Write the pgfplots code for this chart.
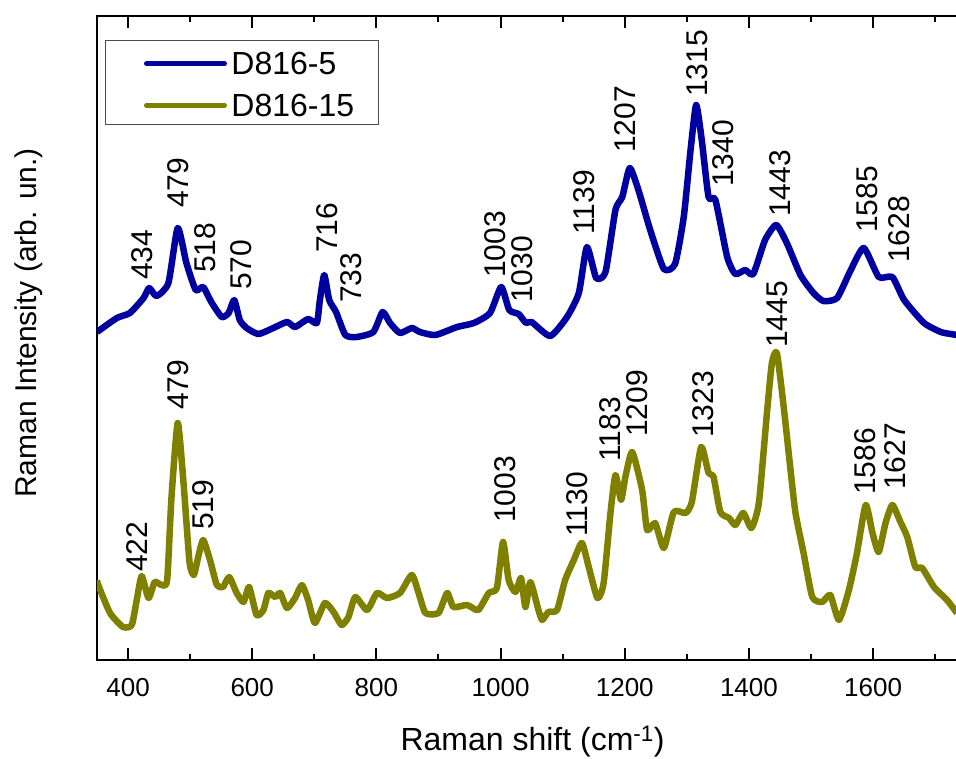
\documentclass[border=0pt]{standalone}
\usepackage{pgfplots}
\pgfplotsset{compat=1.18}
\usepackage{fontspec}
\setmainfont{Liberation Sans}
\definecolor{dblue}{RGB}{0,0,160}
\definecolor{olivec}{RGB}{128,128,0}
\pgfplotstableread{
x y
350 328
382 342
403 347
425 362
434 372
446 364
465 377
480 432
494 397
509 370
521 373
535 357
551 343
562 347
571 360
580 340
591 332
610 326
634 332
656 338
669 333
690 341
704 337
709 360
716 385
724 360
735 348
750 325
768 323
795 328
810 348
822 337
838 327
857 332
870 328
895 325
930 333
957 337
983 347
1001 373
1014 350
1029 346
1041 337
1050 338
1080 324
1107 343
1126 367
1139 413
1154 382
1169 388
1185 450
1196 463
1208 492
1222 470
1241 430
1263 391
1281 396
1295 443
1306 510
1315 555
1324 520
1335 463
1346 460
1365 403
1378 386
1394 390
1407 386
1426 420
1444 435
1461 417
1483 385
1504 367
1520 359
1542 362
1564 390
1585 412
1609 383
1631 383
1650 360
1682 337
1709 328
1725 326
1735 325
}\blue
\pgfplotstableread{
x y
350 80
352 75
371 47
392 33
406 35
414 60
422 84
433 62
443 78
454 75
463 80
470 163
480 237
489 180
499 98
506 85
513 103
521 120
532 100
543 75
553 73
563 83
575 67
586 58
595 73
607 45
618 50
626 67
637 63
645 67
656 52
669 62
680 75
690 60
701 37
717 57
731 48
744 35
755 43
766 63
785 50
801 67
817 62
838 67
857 85
868 67
879 47
900 47
914 67
924 53
946 55
964 50
981 67
994 72
1004 118
1013 80
1024 68
1033 82
1040 53
1048 78
1061 50
1067 40
1077 48
1091 50
1104 80
1118 100
1131 117
1142 93
1156 62
1166 77
1177 147
1185 185
1194 160
1201 183
1212 208
1228 170
1236 130
1249 137
1263 112
1279 148
1298 147
1308 158
1323 213
1335 187
1343 183
1354 148
1368 142
1378 135
1391 147
1404 132
1416 157
1429 247
1437 297
1445 307
1456 253
1467 190
1475 147
1488 107
1502 63
1518 58
1531 65
1545 40
1561 70
1574 107
1588 155
1599 127
1609 108
1620 137
1631 155
1644 138
1655 123
1668 93
1679 92
1698 73
1719 60
1735 47
}\olive
\begin{document}
\begin{tikzpicture}
\useasboundingbox (-97pt,-98pt) rectangle (859pt,660pt);
\begin{axis}[
  scale only axis, width=859pt, height=644pt,
  xmin=350, xmax=1733.5, ymin=0, ymax=644,
  axis line style={draw=none},
  clip mode=individual,
  xtick={400,600,...,1600}, minor xtick={500,700,...,1700}, ytick=\empty,
  tick align=inside, xtick pos=both, xticklabel pos=lower,
  major tick length=12pt, minor tick length=6pt,
  tick style={black, line width=2pt}, minor tick style={black, line width=2pt},
  xticklabel style={font=\fontsize{26}{26}\selectfont, anchor=base, yshift=-36.7pt},
  /pgf/number format/assume math mode=true, /pgf/number format/1000 sep={},
  xlabel={Raman shift (cm\textsuperscript{-1})},
  xlabel style={font=\fontsize{32}{32}\selectfont, at={(axis description cs:0.507,-0.1405)}, anchor=base, inner sep=0pt},
  ylabel={Raman Intensity (arb. un.)},
  ylabel style={font=\fontsize{30}{30}\selectfont, at={(axis description cs:-0.0702,0.5233)}, anchor=base, inner sep=0pt},
  legend style={at={(axis description cs:0.0093,0.9627)}, anchor=north west, draw=black!70, line width=1pt,
    inner xsep=0pt, inner ysep=8pt, row sep=15.4pt, font=\fontsize{32}{32}\selectfont,
    nodes={inner sep=0pt, text height=26.3pt, text depth=0pt}},
  legend cell align=left,
  legend image code/.code={\path[draw=none] (0pt,0pt) -- (39pt,0pt); \draw[#1, line cap=round, line width=5pt] (41pt,-2pt) -- (119pt,-2pt); \path[draw=none] (126pt,0pt);},
]
\draw[line width=2pt, line cap=rect] (rel axis cs:1,1) -- (rel axis cs:0,1) -- (rel axis cs:0,0) -- (rel axis cs:1,0);
\addplot[dblue, line width=6.5pt, line join=round, smooth, tension=0.35] table[x=x, y=y] {\blue};
\addlegendentry{D816-5}
\addplot[olivec, line width=6.5pt, line join=round, smooth, tension=0.35] table[x=x, y=y] {\olive};
\addlegendentry{D816-15\hspace*{24pt}}
\tikzset{pl/.style={rotate=90, anchor=west, inner sep=0pt, font=\fontsize{30}{30}\selectfont}}
\node[pl] at (axis cs:422,380) {434};
\node[pl] at (axis cs:480,452) {479};
\node[pl] at (axis cs:524,387) {518};
\node[pl] at (axis cs:583,370) {570};
\node[pl] at (axis cs:720,407) {716};
\node[pl] at (axis cs:760,357) {733};
\node[pl] at (axis cs:991,382) {1003};
\node[pl] at (axis cs:1034.5,357) {1030};
\node[pl] at (axis cs:1134,425) {1139};
\node[pl] at (axis cs:1201,507) {1207};
\node[pl] at (axis cs:1316.5,563) {1315};
\node[pl] at (axis cs:1359,473) {1340};
\node[pl] at (axis cs:1451,443) {1443};
\node[pl] at (axis cs:1590,427) {1585};
\node[pl] at (axis cs:1641.5,397) {1628};
\node[pl] at (axis cs:414,88) {422};
\node[pl] at (axis cs:480,250) {479};
\node[pl] at (axis cs:521,130) {519};
\node[pl] at (axis cs:1007.5,137) {1003};
\node[pl] at (axis cs:1124,123) {1130};
\node[pl] at (axis cs:1177,198) {1183};
\node[pl] at (axis cs:1220,223) {1209};
\node[pl] at (axis cs:1327,222) {1323};
\node[pl] at (axis cs:1445,312) {1445};
\node[pl] at (axis cs:1587.7,165) {1586};
\node[pl] at (axis cs:1636,170) {1627};
\end{axis}
\end{tikzpicture}
\end{document}
